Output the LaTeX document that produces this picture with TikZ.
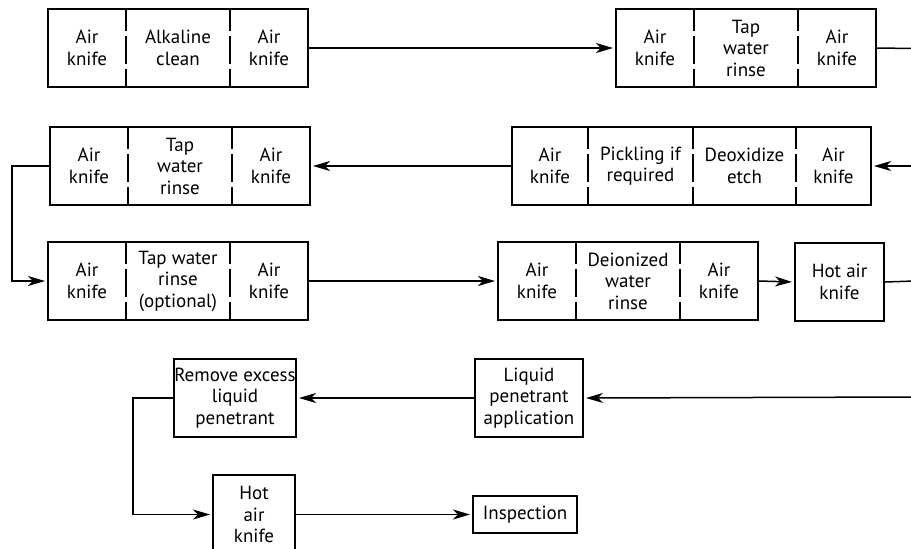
\documentclass[tikz,border=0pt]{standalone}
\usepackage{fontspec}
\setmainfont{PT Sans}
\usetikzlibrary{positioning,fit,arrows.meta}

\begin{document}
\begin{tikzpicture}[
    x=0.5pt, y=-0.5pt,
    cell/.style={minimum height=39pt, inner sep=0pt, outer sep=0pt, align=center,
                 font=\fontsize{9.5}{10.75}\selectfont},
    frame/.style={draw, line width=1pt, inner sep=0pt},
    box/.style={draw, line width=1pt, minimum height=39pt, inner sep=0pt, align=center,
                font=\fontsize{9.5}{10.75}\selectfont},
    divider/.style={line width=0.9pt, dash pattern=on 11pt off 2.5pt on 14pt off 2.5pt},
    flow/.style={-{Stealth[length=8.5pt,width=5pt,inset=2.5pt]}, line width=0.75pt, shorten >=1pt},
    link/.style={line width=0.75pt}
]
\useasboundingbox (0,0) rectangle (911,548);

% first row
\node[cell, anchor=north west, minimum width=39pt] (a1) at (48,9) {Air\\knife};
\node[cell, minimum width=52pt, right=0pt of a1] (a2) {Alkaline\\clean};
\node[cell, minimum width=39pt, right=0pt of a2] (a3) {Air\\knife};
\node[frame, fit=(a1)(a3)] (s1) {};
\draw[divider] (a1.north east) -- (a1.south east);
\draw[divider] (a2.north east) -- (a2.south east);

\node[cell, anchor=north west, minimum width=39pt] (b1) at (616,9) {Air\\knife};
\node[cell, minimum width=52pt, right=0pt of b1] (b2) {Tap\\water\\rinse};
\node[cell, minimum width=39pt, right=0pt of b2] (b3) {Air\\knife};
\node[frame, fit=(b1)(b3)] (s2) {};
\draw[divider] (b1.north east) -- (b1.south east);
\draw[divider] (b2.north east) -- (b2.south east);

% second row
\node[cell, anchor=north west, minimum width=39pt] (c1) at (50,127) {Air\\knife};
\node[cell, minimum width=52pt, right=0pt of c1] (c2) {Tap\\water\\rinse};
\node[cell, minimum width=39pt, right=0pt of c2] (c3) {Air\\knife};
\node[frame, fit=(c1)(c3)] (s3) {};
\draw[divider] (c1.north east) -- (c1.south east);
\draw[divider] (c2.north east) -- (c2.south east);

\node[cell, anchor=north west, minimum width=38pt] (d1) at (512,127) {Air\\knife};
\node[cell, minimum width=52.5pt, right=0pt of d1] (d2) {Pickling if\\required};
\node[cell, minimum width=51.5pt, right=0pt of d2] (d3) {Deoxidize\\etch};
\node[cell, minimum width=37.5pt, right=0pt of d3] (d4) {Air\\knife};
\node[frame, fit=(d1)(d4)] (s4) {};
\draw[divider] (d1.north east) -- (d1.south east);
\draw[divider] (d2.north east) -- (d2.south east);
\draw[divider] (d3.north east) -- (d3.south east);

% third row
\node[cell, anchor=north west, minimum width=39pt] (e1) at (48,242) {Air\\knife};
\node[cell, minimum width=52pt, right=0pt of e1] (e2) {Tap water\\rinse\\(optional)};
\node[cell, minimum width=39pt, right=0pt of e2] (e3) {Air\\knife};
\node[frame, fit=(e1)(e3)] (s5) {};
\draw[divider] (e1.north east) -- (e1.south east);
\draw[divider] (e2.north east) -- (e2.south east);

\node[cell, anchor=north west, minimum width=39pt] (f1) at (498,242) {Air\\knife};
\node[cell, minimum width=52pt, right=0pt of f1] (f2) {Deionized\\water\\rinse};
\node[cell, minimum width=39pt, right=0pt of f2] (f3) {Air\\knife};
\node[frame, fit=(f1)(f3)] (s6) {};
\draw[divider] (f1.north east) -- (f1.south east);
\draw[divider] (f2.north east) -- (f2.south east);

\node[box, anchor=north west, minimum width=44.5pt] (s7) at (794,242) {Hot air\\knife};

% fourth row
\node[box, anchor=north west, minimum width=54pt] (s8) at (474,358) {Liquid\\penetrant\\application};
\node[box, anchor=north west, minimum width=61pt] (s9) at (173,358) {Remove excess\\liquid\\penetrant};

% last row
\node[box, anchor=north west, minimum width=41pt, minimum height=39.5pt] (s10) at (212,474) {Hot\\air\\knife};
\node[box, anchor=north west, minimum width=52pt, minimum height=18.5pt] (s11) at (472,495) {Inspection};

% ends running off to the right
\coordinate (r1) at (914,48.5);
\coordinate (r2) at (914,166);
\coordinate (r3) at (914,281);
\coordinate (r4) at (914,397);
\coordinate (k1) at (12,220);
\coordinate (k2) at (133,450);

\draw[flow] (s1.east) -- (s2.west);
\draw[link] (s2.east) -- (r1);
\draw[flow] (r2) -- (s4.east);
\draw[flow] (s4.west) -- (s3.east);
\draw[flow] (s3.west) -| (k1) |- (s5.west);
\draw[flow] (s5.east) -- (s6.west);
\draw[flow] (s6.east) -- (s7.west);
\draw[link] (s7.east) -- (r3);
\draw[flow] (r4) -- (s8.east);
\draw[flow] (s8.west) -- (s9.east);
\draw[flow] (s9.west) -| (k2) |- (s10.west);
\draw[flow] (s10.east) -- (s11.west);
\end{tikzpicture}
\end{document}
